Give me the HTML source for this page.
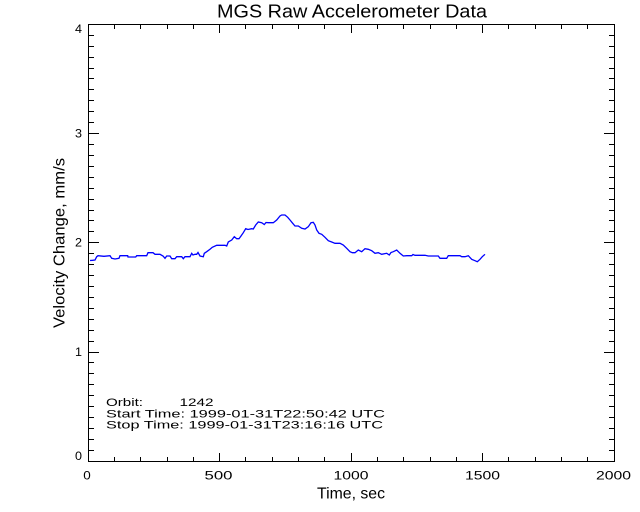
<!DOCTYPE html>
<html>
<head>
<meta charset="utf-8">
<style>
html,body{margin:0;padding:0;background:#fff;}
svg{display:block;}
text{font-family:"Liberation Sans",sans-serif;fill:#000;}
</style>
</head>
<body>
<svg width="640" height="512" viewBox="0 0 640 512" xmlns="http://www.w3.org/2000/svg">
<rect x="0" y="0" width="640" height="512" fill="#fff"/>
<text x="352" y="17.3" font-size="18" text-anchor="middle" textLength="270" lengthAdjust="spacingAndGlyphs">MGS Raw Accelerometer Data</text>

<!-- axes box -->
<g stroke="#000" stroke-width="1" fill="none" shape-rendering="crispEdges">
<rect x="88.5" y="24.5" width="526" height="437"/>
<path d="M88.5 461V453 M219.5 461V453 M351.5 461V453 M482.5 461V453 M614.5 461V453
M88.5 25V33 M219.5 25V33 M351.5 25V33 M482.5 25V33 M614.5 25V33"/>
<path d="M114.5 461V457 M140.5 461V457 M167.5 461V457 M193.5 461V457
M245.5 461V457 M272.5 461V457 M298.5 461V457 M324.5 461V457
M377.5 461V457 M403.5 461V457 M430.5 461V457 M456.5 461V457
M508.5 461V457 M535.5 461V457 M561.5 461V457 M587.5 461V457
M114.5 25V29 M140.5 25V29 M167.5 25V29 M193.5 25V29
M245.5 25V29 M272.5 25V29 M298.5 25V29 M324.5 25V29
M377.5 25V29 M403.5 25V29 M430.5 25V29 M456.5 25V29
M508.5 25V29 M535.5 25V29 M561.5 25V29 M587.5 25V29"/>
<path d="M89 461.5H99 M89 352.5H99 M89 242.5H99 M89 133.5H99 M89 24.5H99
M614 461.5H604 M614 352.5H604 M614 242.5H604 M614 133.5H604 M614 24.5H604"/>
<path d="
M89 450.5H94 M89 439.5H94 M89 428.5H94 M89 417.5H94 M89 406.5H94 M89 395.5H94 M89 384.5H94 M89 373.5H94 M89 362.5H94
M89 341.5H94 M89 330.5H94 M89 319.5H94 M89 308.5H94 M89 297.5H94 M89 286.5H94 M89 275.5H94 M89 264.5H94 M89 253.5H94
M89 231.5H94 M89 220.5H94 M89 210.5H94 M89 199.5H94 M89 188.5H94 M89 177.5H94 M89 166.5H94 M89 155.5H94 M89 144.5H94
M89 122.5H94 M89 111.5H94 M89 100.5H94 M89 89.5H94 M89 78.5H94 M89 68.5H94 M89 57.5H94 M89 46.5H94 M89 35.5H94"/>
<path d="
M614 450.5H609 M614 439.5H609 M614 428.5H609 M614 417.5H609 M614 406.5H609 M614 395.5H609 M614 384.5H609 M614 373.5H609 M614 362.5H609
M614 341.5H609 M614 330.5H609 M614 319.5H609 M614 308.5H609 M614 297.5H609 M614 286.5H609 M614 275.5H609 M614 264.5H609 M614 253.5H609
M614 231.5H609 M614 220.5H609 M614 210.5H609 M614 199.5H609 M614 188.5H609 M614 177.5H609 M614 166.5H609 M614 155.5H609 M614 144.5H609
M614 122.5H609 M614 111.5H609 M614 100.5H609 M614 89.5H609 M614 78.5H609 M614 68.5H609 M614 57.5H609 M614 46.5H609 M614 35.5H609"/>
</g>

<g font-size="12" text-anchor="end">
<text x="82" y="33" textLength="7" lengthAdjust="spacingAndGlyphs">4</text>
<text x="82" y="137.7" textLength="7" lengthAdjust="spacingAndGlyphs">3</text>
<text x="82" y="246.7" textLength="7" lengthAdjust="spacingAndGlyphs">2</text>
<text x="82" y="356" textLength="7" lengthAdjust="spacingAndGlyphs">1</text>
<text x="82" y="460" textLength="7" lengthAdjust="spacingAndGlyphs">0</text>
</g>
<g font-size="12" text-anchor="middle">
<text x="87" y="479.3" textLength="7.5" lengthAdjust="spacingAndGlyphs">0</text>
<text x="218.5" y="479.3" textLength="28" lengthAdjust="spacingAndGlyphs">500</text>
<text x="351" y="479.3" textLength="35" lengthAdjust="spacingAndGlyphs">1000</text>
<text x="482.5" y="479.3" textLength="35" lengthAdjust="spacingAndGlyphs">1500</text>
<text x="613.5" y="479.3" textLength="35" lengthAdjust="spacingAndGlyphs">2000</text>
</g>

<text x="351" y="498.3" font-size="16" text-anchor="middle" textLength="68" lengthAdjust="spacingAndGlyphs">Time, sec</text>
<text transform="translate(64.5,243) rotate(-90)" x="0" y="0" font-size="16" text-anchor="middle" textLength="170" lengthAdjust="spacingAndGlyphs">Velocity Change, mm/s</text>

<g font-size="11">
<text x="106" y="406" textLength="37" lengthAdjust="spacingAndGlyphs">Orbit:</text>
<text x="179.5" y="406" textLength="34" lengthAdjust="spacingAndGlyphs">1242</text>
<text x="106" y="417.3" textLength="279" lengthAdjust="spacingAndGlyphs">Start Time: 1999-01-31T22:50:42 UTC</text>
<text x="106" y="428.3" textLength="277" lengthAdjust="spacingAndGlyphs">Stop Time: 1999-01-31T23:16:16 UTC</text>
</g>

<polyline fill="none" stroke="#0000ff" stroke-width="1.3" stroke-linejoin="miter" points="
90,260.5 92.5,260.3 95,260 96.7,256.7 98,255.7 104,256.3 110,255.7 111.7,258.3 115,259 119,258.3 120,255.7 127.7,255.7 128,257 135.7,257 136.7,255.7 146.7,255.7 148,252.7 153,252.7 155,254.3 160,254.3 163,256 165,258.3 166.7,256 170,256 171.7,258.7 175,258.7 176.7,256.7 181.7,256.7 183.3,258.7 185,256.7 190,256.7 191.7,253.3 193,255 195,254.3 196.7,254.3 198,252.5 200,256 203.3,256.7 204.3,253.3 206.7,251.7 210,249.3 212.3,247.3 216.7,245.3 225,245.3
226.7,246 228.3,242 231.7,240 234.3,236.7 236.7,238.7 239,238.7 241,236 243.3,232.7 245.7,228.7 248,229.5 251.7,228.7 253.3,229 255.7,225 258.3,222 261.7,222.7 264.3,224.5 266,222.5 268.3,222.7 273.3,222.7 276.7,220 280,216 281.7,215 285,215 287.7,217.3 290,220 292.7,223.3 295,226 298.3,226 301.7,228.3 305,229 308.3,226.7 311,222.7 313.3,222.3 315,225 316.7,230 319,233.3 321.7,234.3 325,237.3 328.3,240.7 331.7,242 335,243.3 340,243.3 343.3,245 346.7,248.3 350,251.7 352.3,252.7
355,252.7 358.3,250 361.7,251.7 365,248.7 368.3,249.3 371.7,250.7 375,253.3 378.3,252.7 381.7,254.3 386.7,253.3 389.3,255 391,252.5 393.3,251.7 396.7,250 400,253.3 403.3,256 406.7,255.7 411.7,255.7 413,254.5 415,255.3 425,255.3 428.3,256 438.3,256 440,258.3 446.7,258.3 448.3,255.7 460,255.7 461.7,256.7 465,256.7 468.3,255.7 471.7,259.3 475,260.7 477.3,261.7 480,259.3 482.3,256.7 485,254.3"/>
</svg>
</body>
</html>
